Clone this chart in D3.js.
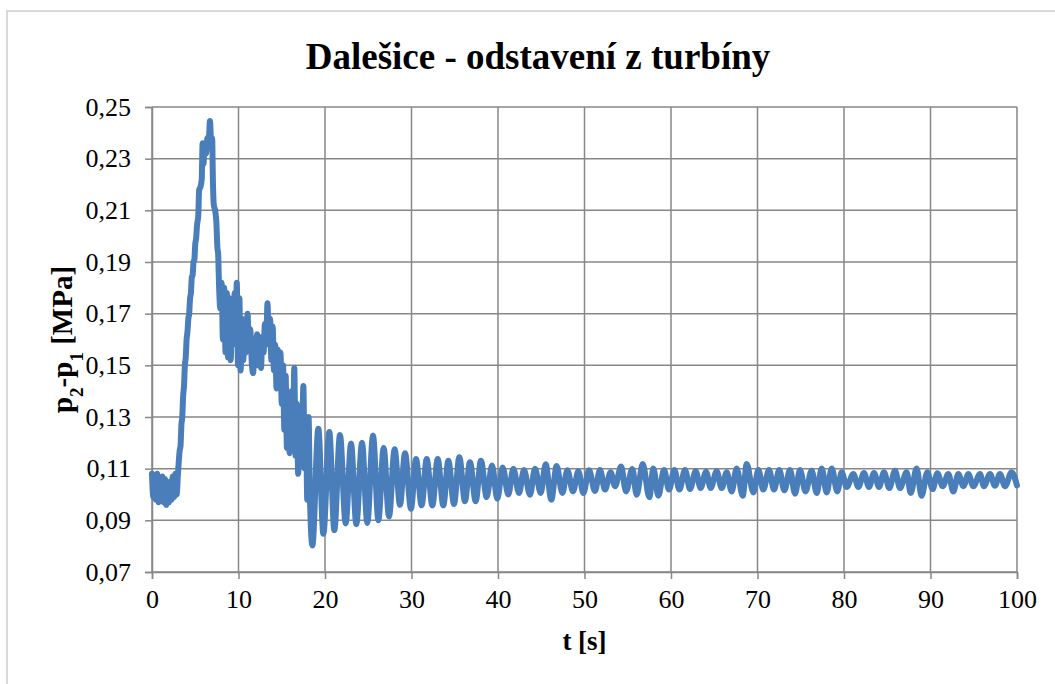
<!DOCTYPE html>
<html>
<head>
<meta charset="utf-8">
<script src="https://cdn.jsdelivr.net/npm/d3@7"></script>
<style>
body { margin: 0; background: #fff; }
svg text { font-family: "Liberation Serif", "Times New Roman", serif; fill: #000; }
</style>
</head>
<body>
<svg class="chart"></svg>
<script>
// [t (s), p2-p1 (MPa)], po usecich
var rozjezd = [
	[0,0.108],[0.15,0.099],[0.3,0.107],[0.45,0.098],[0.6,0.108],[0.75,0.097],[0.9,0.106],
	[1.05,0.099],[1.2,0.107],[1.35,0.097],[1.5,0.106],[1.65,0.096],[1.8,0.104],[1.95,0.097],
	[2.1,0.105],[2.25,0.098],[2.4,0.107],[2.55,0.099],[2.7,0.108],[2.85,0.100],
	[3.0,0.108],[3.1,0.113],[3.2,0.117],[3.3,0.119],[3.4,0.127],[3.5,0.130],[3.6,0.138],
	[3.7,0.142],[3.8,0.150],[3.9,0.153],[4.0,0.160],[4.1,0.163],[4.2,0.168],[4.3,0.170],
	[4.4,0.176],[4.5,0.178],[4.6,0.184],[4.7,0.185],[4.8,0.190],[4.9,0.191],[5.0,0.197],
	[5.1,0.199],[5.2,0.204],[5.35,0.208],[5.45,0.218],[5.6,0.219],[5.75,0.222],[5.85,0.236],
	[5.95,0.228],[6.1,0.236],[6.25,0.232],[6.4,0.238],[6.55,0.236],[6.7,0.2446],[6.85,0.236],
	[6.95,0.238],[7.05,0.220],[7.15,0.212],[7.3,0.210],[7.45,0.205],[7.55,0.196],[7.65,0.193]
];

var pokles = [
	[7.75,0.181],[7.9,0.172],[8.05,0.182],[8.2,0.160],[8.35,0.180],[8.5,0.155],[8.65,0.178],
	[8.8,0.153],[8.95,0.176],[9.1,0.152],[9.25,0.172],[9.4,0.160],[9.55,0.178],[9.7,0.158],
	[9.8,0.182],[9.95,0.150],[10.1,0.176],[10.25,0.148],[10.4,0.168],[10.55,0.152],[10.7,0.165],
	[10.85,0.155],[11.05,0.170],[11.2,0.156],[11.35,0.164],[11.55,0.150],[11.7,0.147],[11.85,0.160],
	[12.0,0.152],[12.15,0.162],[12.3,0.150],[12.45,0.161],[12.6,0.149],[12.75,0.160],[12.9,0.155],
	[13.05,0.166],[13.2,0.158],[13.35,0.174],[13.5,0.160],[13.65,0.168],[13.8,0.152],[13.95,0.165],
	[14.1,0.148],[14.25,0.158],[14.4,0.141],[14.55,0.156],[14.7,0.142],[14.85,0.155],[15.0,0.135],
	[15.15,0.150],[15.3,0.125],[15.45,0.146],[15.6,0.118],[15.75,0.138],[15.9,0.116],[16.1,0.140],
	[16.3,0.122],[16.45,0.149],[16.6,0.115],[16.75,0.135],[16.9,0.108],[17.1,0.130],[17.3,0.112],
	[17.5,0.142],[17.65,0.110],[17.8,0.128],[17.95,0.098],[18.1,0.130],[18.25,0.100]
];

var kmity = [
	[18.54,0.0803],[19.23,0.1255],[19.81,0.0848],[20.5,0.1242],[21.08,0.0862],[21.73,0.1230],
	[22.39,0.0888],[23.01,0.1197],[23.62,0.0885],[24.28,0.1200],[24.89,0.0890],[25.55,0.1228],
	[26.17,0.0900],[26.78,0.1180],[27.4,0.0915],[28.05,0.1175],[28.67,0.0960],[29.25,0.1160],
	[29.94,0.0945],[30.52,0.1137],[31.17,0.0958],[31.76,0.1137],[32.41,0.0958],[33.03,0.1137],
	[33.68,0.0958],[34.26,0.1131],[34.91,0.0963],[35.53,0.1144],[36.18,0.0974],[36.76,0.1125],
	[37.42,0.0974],[38.03,0.1131],[38.69,0.0990],[39.31,0.1112],[39.92,0.0984],[40.54,0.1105],
	[41.19,0.1000],[41.77,0.1100],[42.43,0.1006],[43.0,0.1095],[43.7,0.0999],[44.28,0.1100],
	[44.93,0.1006],[45.51,0.1117],[46.16,0.0980],[46.78,0.1110],[47.44,0.1006],[48.02,0.1094],
	[48.67,0.1012],[49.29,0.1090],[49.87,0.1006],[50.52,0.1094],[51.21,0.1014],[51.79,0.1095],
	[52.37,0.1019],[53.02,0.1086],[53.53,0.1032],[54.23,0.1108],[54.8,0.1012],[55.53,0.1099],
	[56.03,0.0999],[56.73,0.1118],[57.5,0.0990],[57.96,0.1101],[58.54,0.0995],[59.19,0.1095],
	[59.77,0.1019],[60.39,0.1095],[60.97,0.1019],[61.62,0.1095],[62.2,0.1021],[62.85,0.1090],
	[63.43,0.1025],[64.05,0.1088],[64.59,0.1025],[65.28,0.1090],[65.86,0.1025],[66.44,0.1086],
	[67.01,0.1012],[67.59,0.1101],[68.29,0.0995],[68.75,0.1118],[69.52,0.1008],[70.1,0.1095],
	[70.67,0.1019],[71.33,0.1095],[71.91,0.1019],[72.52,0.1095],[73.1,0.1016],[73.76,0.1095],
	[74.34,0.1003],[74.91,0.1095],[75.55,0.1012],[76.26,0.1092],[76.84,0.1006],[77.42,0.1101],
	[78.0,0.1008],[78.58,0.1101],[79.23,0.1012],[79.73,0.1086],[80.31,0.1029],[81.08,0.1079],
	[81.66,0.1029],[82.31,0.1083],[82.89,0.1029],[83.47,0.1083],[84.05,0.1029],[84.62,0.1086],
	[85.24,0.1025],[85.9,0.1092],[86.47,0.1025],[87.24,0.1086],[87.71,0.1006],[88.4,0.1101],
	[88.97,0.0995],[89.63,0.1086],[90.25,0.1021],[90.79,0.1082],[91.41,0.1032],[92.06,0.1079],
	[92.64,0.1012],[93.22,0.1079],[93.8,0.1032],[94.38,0.1079],[94.95,0.1032],[95.72,0.1079],
	[96.18,0.1032],[96.88,0.1079],[97.45,0.1034],[98.03,0.1079],[98.61,0.1032],[99.38,0.1086],
	[100,0.1035]
];

var x_ticks = [0,10,20,30,40,50,60,70,80,90,100];
var y_ticks = [0.07,0.09,0.11,0.13,0.15,0.17,0.19,0.21,0.23,0.25];

var titulek = "Dalešice - odstavení z turbíny";

var W = 1055, H = 684;
var margin = {left: 152, right: 1017, top: 107, bottom: 572};

var cz = d3.formatLocale({decimal: ",", thousands: " ", grouping: [3], currency: ["", " Kč"]});

var data = rozjezd.concat(pokles, kmity).map(function(d) { return {t: d[0], p: d[1]}; });

var x = d3.scaleLinear().domain([0,100]).range([margin.left,margin.right]);
var y = d3.scaleLinear().domain([0.07,0.25]).range([margin.bottom,margin.top]);

var chart = d3.select(".chart").attr("width",W).attr("height",H);

// ramecek grafu
chart.append("rect")
	.attr("x",7).attr("y",11)
	.attr("width",W).attr("height",H)
	.attr("fill","none")
	.attr("stroke","#d9d9d9")
	.attr("stroke-width",2);

var grid = chart.append("g").attr("stroke","#878787").attr("stroke-width",1.5);

grid.selectAll("line.h").data(y_ticks).enter().append("line")
	.attr("class","h")
	.attr("x1",margin.left).attr("x2",margin.right)
	.attr("y1",function(d) { return y(d); })
	.attr("y2",function(d) { return y(d); });

grid.selectAll("line.v").data(x_ticks).enter().append("line")
	.attr("class","v")
	.attr("y1",margin.top).attr("y2",margin.bottom)
	.attr("x1",function(d) { return x(d); })
	.attr("x2",function(d) { return x(d); });

var yAxis = chart.append("g")
	.attr("transform","translate(" + margin.left + ",0)")
	.call(d3.axisLeft(y).tickValues(y_ticks).tickSize(7).tickPadding(14).tickFormat(cz.format(".2f")));

var xAxis = chart.append("g")
	.attr("transform","translate(0," + margin.bottom + ")")
	.call(d3.axisBottom(x).tickValues(x_ticks).tickSize(7).tickPadding(11));

[yAxis, xAxis].forEach(function(a) {
	a.select(".domain").attr("stroke","#878787").attr("stroke-width",1.5);
	a.selectAll(".tick line").attr("stroke","#878787").attr("stroke-width",1.5);
	a.selectAll(".tick text").style("font-size","26px").attr("fill","#000")
		.style("font-family","'Liberation Serif', serif");
});

var line = d3.line()
	.x(function(d) { return x(d.t); })
	.y(function(d) { return y(d.p); })
	.curve(d3.curveMonotoneX);

chart.append("path")
	.datum(data)
	.attr("d",line)
	.attr("fill","none")
	.attr("stroke","#4a7ebb")
	.attr("stroke-width",6)
	.attr("stroke-linejoin","round")
	.attr("stroke-linecap","round");

chart.append("text")
	.attr("x",538).attr("y",69)
	.attr("text-anchor","middle")
	.style("font-size","37px")
	.style("font-weight","bold")
	.text(titulek);

chart.append("text")
	.attr("x",(margin.left+margin.right)/2).attr("y",650)
	.attr("text-anchor","middle")
	.style("font-size","27px")
	.style("font-weight","bold")
	.text("t [s]");

var ylab = chart.append("text")
	.attr("transform","translate(72," + ((margin.top+margin.bottom)/2) + ") rotate(-90)")
	.attr("text-anchor","middle")
	.style("font-size","29px")
	.style("font-weight","bold");
ylab.append("tspan").text("p");
ylab.append("tspan").attr("baseline-shift","sub").style("font-size","19px").text("2");
ylab.append("tspan").text("-p");
ylab.append("tspan").attr("baseline-shift","sub").style("font-size","19px").text("1");
ylab.append("tspan").text(" [MPa]");
</script>
</body>
</html>
